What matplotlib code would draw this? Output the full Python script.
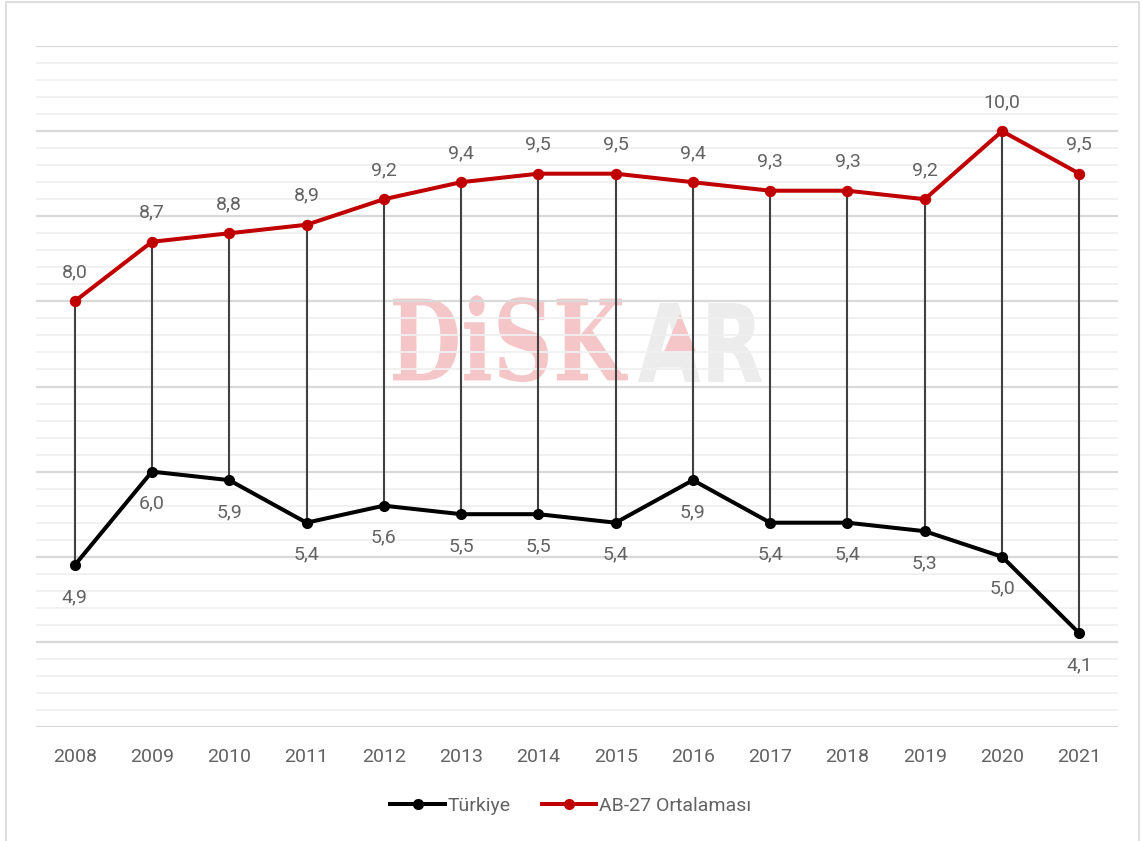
import matplotlib
matplotlib.use("Agg")
import matplotlib.pyplot as plt
from matplotlib.patches import Rectangle, Polygon, PathPatch
from matplotlib.lines import Line2D
from matplotlib.textpath import TextPath
from matplotlib.font_manager import FontProperties
from matplotlib.transforms import Affine2D

years = ["2008", "2009", "2010", "2011", "2012", "2013", "2014",
         "2015", "2016", "2017", "2018", "2019", "2020", "2021"]
turkiye = [4.9, 6.0, 5.9, 5.4, 5.6, 5.5, 5.5, 5.4, 5.9, 5.4, 5.4, 5.3, 5.0, 4.1]
ab27 = [8.0, 8.7, 8.8, 8.9, 9.2, 9.4, 9.5, 9.5, 9.4, 9.3, 9.3, 9.2, 10.0, 9.5]
series_names = ["Türkiye", "AB-27 Ortalaması"]

plt.rcParams['font.family'] = ['Roboto', 'DejaVu Sans']
TXT = "#636363"
RED = "#C00000"
FS = 14

fig = plt.figure(figsize=(11.42, 8.41), dpi=100)
ax = fig.add_axes([36/1142, 1-727/841, (1118-36)/1142, (727-46)/841])
ax.set_facecolor("none")

x = list(range(len(years)))
ax.set_xlim(-0.5, len(years) - 0.5)
ax.set_ylim(3.0, 11.0)

# gridlines
for i in range(41):
    v = 3.0 + i * 0.2
    major = (i % 5 == 0)
    ax.axhline(v, color="#d9d9d9" if major else "#f0f0f0",
               lw=1.6 if major else 1.3, zorder=1)

# watermark (fitted into box, axes fraction)
def fitted_text(s, fp, box, color, z=0.5):
    tp = TextPath((0, 0), s, size=100, prop=fp)
    ext = tp.get_extents()
    x0, y0, x1, y1 = box
    sx = (x1 - x0) / ext.width
    sy = (y1 - y0) / ext.height
    tr = Affine2D().translate(-ext.x0, -ext.y0).scale(sx, sy).translate(x0, y0) + ax.transAxes
    ax.add_patch(PathPatch(tp, transform=tr, facecolor=color, edgecolor="none", zorder=z))

fitted_text("DiSK", FontProperties(family="DejaVu Serif", weight="bold"),
            (0.330, 0.5066, 0.547, 0.634), "#f5c6c8")
fitted_text("AR", FontProperties(family="DejaVu Sans", weight="bold"),
            (0.5564, 0.5066, 0.671, 0.6226), "#ececec")
def axfrac(px, py):
    return ((px - 36) / 1082, (727 - py) / 681)
ax.add_patch(Polygon([axfrac(664, 352), axfrac(696, 352), axfrac(680, 314)],
                     closed=True, transform=ax.transAxes, facecolor="#f5c6c8",
                     edgecolor="none", zorder=0.6))

# drop lines
ax.vlines(x, turkiye, ab27, color="#404040", lw=1.5, zorder=2)

ax.plot(x, turkiye, color="black", lw=2.9, marker="o", ms=7, zorder=3,
        solid_joinstyle="round")
ax.plot(x, ab27, color=RED, lw=2.9, marker="o", ms=7.2, zorder=3,
        solid_joinstyle="round")

def fmt(v):
    return f"{v:.1f}".replace(".", ",")

for xi, v in zip(x, ab27):
    ax.annotate(fmt(v), (xi, v), xytext=(0, 21), textcoords="offset points",
                ha="center", va="center", fontsize=FS, color=TXT, zorder=4)
for xi, v in zip(x, turkiye):
    ax.annotate(fmt(v), (xi, v), xytext=(0, -23), textcoords="offset points",
                ha="center", va="center", fontsize=FS, color=TXT, zorder=4)

ax.set_xticks(x)
ax.set_xticklabels(years, fontsize=FS, color=TXT)
ax.tick_params(axis="x", length=0, pad=15)
ax.set_yticks([])
for s in ax.spines.values():
    s.set_visible(False)

handles = [Line2D([], [], color="black", lw=2.9, marker="o", ms=7),
           Line2D([], [], color=RED, lw=2.9, marker="o", ms=7)]
leg = fig.legend(handles, series_names, loc="center", bbox_to_anchor=(0.5, 1-806/841),
                 ncol=2, frameon=False, fontsize=FS, handlelength=2.8,
                 handletextpad=0.15, columnspacing=1.6)
for t in leg.get_texts():
    t.set_color(TXT)

# figure border
fig.patches.append(Rectangle((5.5/1142, -0.01), (1139-5.5)/1142, 1.01 - 2/841,
                             transform=fig.transFigure, fill=False,
                             edgecolor="#d9d9d9", lw=1.2))

fig.savefig("out.png", dpi=100)
